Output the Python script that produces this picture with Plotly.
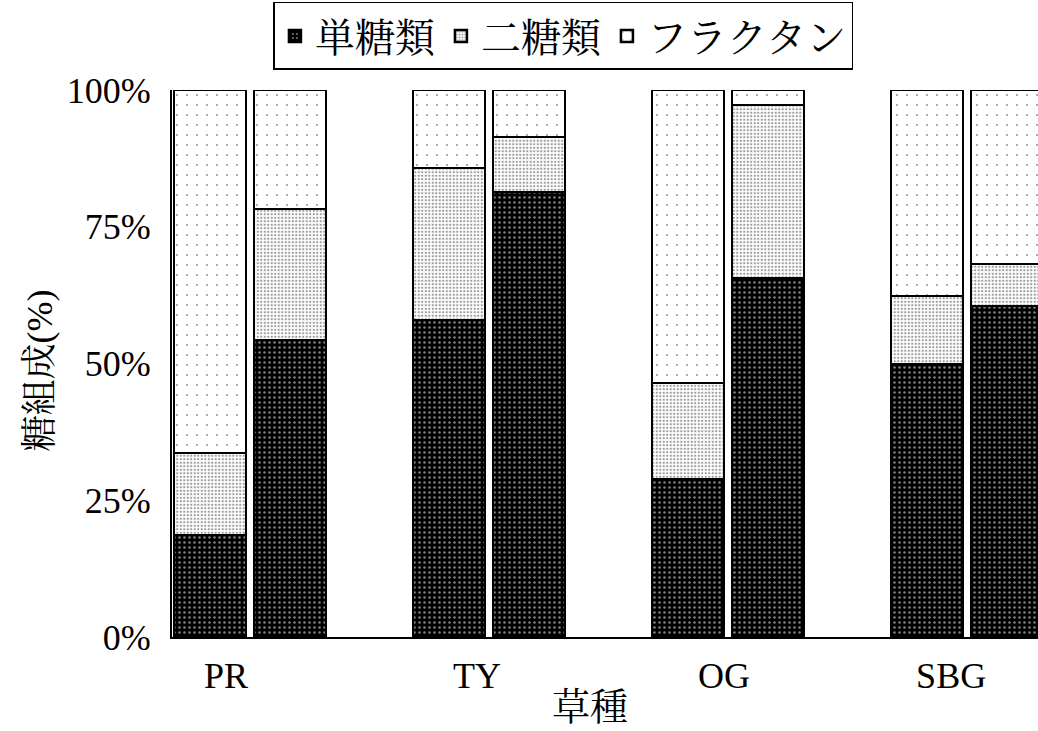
import plotly.graph_objects as go

categories = ["PR", "TY", "OG", "SBG"]
group_index = [0, 0, 1, 1, 2, 2, 3, 3]
bar_in_group = [0, 1, 0, 1, 0, 1, 0, 1]
mono = [18.6, 54.3, 58.0, 81.4, 28.9, 65.6, 49.9, 60.5]
di = [15.0, 23.9, 27.7, 10.0, 17.5, 31.7, 12.4, 7.7]
fructan = [66.4, 21.8, 14.3, 8.6, 53.6, 2.7, 37.7, 31.8]
series_names = ["単糖類", "二糖類", "フラクタン"]
y_ticks = [0, 25, 50, 75, 100]
y_tick_text = ["0%", "25%", "50%", "75%", "100%"]
label_pos = [0.2, 3.35, 6.45, 9.3]

x = [3 * g + k for g, k in zip(group_index, bar_in_group)]

FONT = "Liberation Serif, Noto Serif CJK JP, Noto Sans CJK JP, serif"

styles = [
    dict(color="black", pattern=dict(shape=".", fgcolor="white", bgcolor="black", size=5, solidity=0.2)),
    dict(color="white", pattern=dict(shape=".", fgcolor="#333333", bgcolor="white", size=3.5, solidity=0.35)),
    dict(color="white", pattern=dict(shape=".", fgcolor="#222222", bgcolor="white", size=10, solidity=0.03)),
]

fig = go.Figure()
for name, vals, st in zip(series_names, [mono, di, fructan], styles):
    fig.add_trace(go.Bar(
        x=x, y=vals, name=name, width=0.9,
        marker=dict(color=st["color"], pattern=st["pattern"], line=dict(color="black", width=2.5)),
    ))

fig.update_layout(
    barmode="stack",
    width=1038, height=731,
    margin=dict(l=172, r=0, t=90, b=94, autoexpand=False),
    plot_bgcolor="white", paper_bgcolor="white",
    font=dict(family=FONT, size=36, color="black"),
    legend=dict(
        orientation="h", x=0.452, xanchor="center", y=1.161, yanchor="top",
        bordercolor="black", borderwidth=1.5, font=dict(size=40, family=FONT),
        itemwidth=30, traceorder="normal",
    ),
    xaxis=dict(
        range=[-0.477, 10.39], showline=True, linecolor="black", linewidth=2,
        showgrid=False, zeroline=False, tickvals=label_pos, ticktext=categories,
        ticks="", tickfont=dict(size=36), ticklabelstandoff=6, automargin=False,
    ),
    yaxis=dict(
        range=[0, 100], showline=True, linecolor="black", linewidth=2,
        showgrid=False, zeroline=False, tickvals=y_ticks, ticktext=y_tick_text,
        ticks="", tickfont=dict(size=36), ticklabelstandoff=12, automargin=False,
    ),
    bargap=0,
    annotations=[
        dict(text="草種", xref="paper", yref="paper", x=0.4827, y=-0.128,
             xanchor="center", yanchor="middle", showarrow=False, font=dict(size=38)),
        dict(text="糖組成(%)", xref="paper", yref="paper", x=-0.152, y=0.488,
             xanchor="center", yanchor="middle", showarrow=False, textangle=-90,
             font=dict(size=36)),
    ],
)

fig.write_html("out.html", config={"displayModeBar": False},
               post_script="document.body.style.margin='0';")
